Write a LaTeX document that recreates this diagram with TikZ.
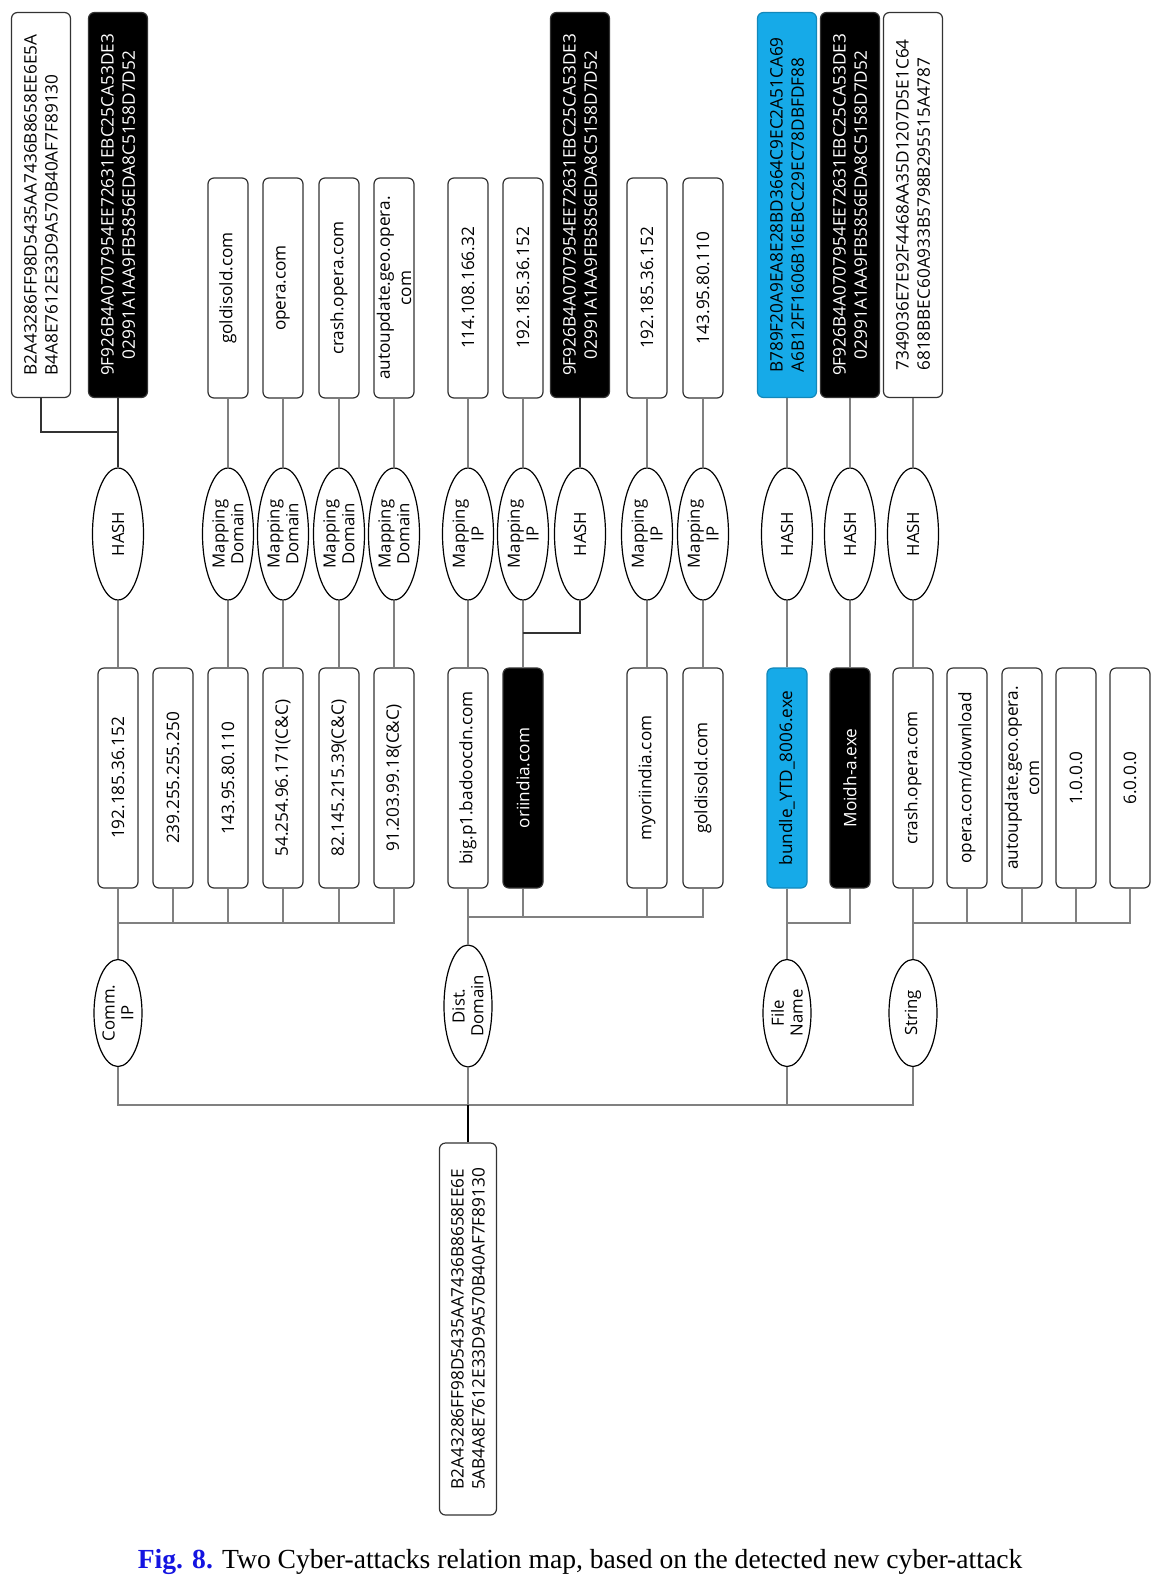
\documentclass[tikz,border=0pt]{standalone}
\usepackage{fontspec}
\setmainfont{Open Sans}
\newfontfamily\capfont{Liberation Serif}
\usepackage{tikz}
\usetikzlibrary{shapes.geometric}
\definecolor{hashblue}{RGB}{22,170,232}
\definecolor{capblue}{RGB}{20,20,225}

\tikzset{
  box/.style={draw=black!80, line width=0.6pt, rounded corners=3pt, rotate=90, inner sep=1pt,
    align=center, font=\fontsize{8.6}{10.6}\selectfont},
  hashbox/.style={box, minimum width=192.5pt, minimum height=29.5pt},
  itembox/.style={box, minimum width=110pt, minimum height=20pt},
  attr/.style={ellipse, draw, line width=0.6pt, rotate=90, inner sep=0pt, minimum width=66pt,
    minimum height=25.5pt, align=center, font=\fontsize{8.4}{9.4}\selectfont},
  kind/.style={attr, minimum width=53.5pt, minimum height=24pt},
  bad/.style={fill=black, text=white},
  fresh/.style={fill=hashblue, draw=hashblue!80!black},
  link/.style={draw=black!50, line width=0.6pt},
  strong/.style={draw=black!80, line width=0.6pt}
}

\begin{document}
\begin{tikzpicture}[x=0.5pt, y=-0.5pt]
  \useasboundingbox[fill=white] (0,0) rectangle (1170,1581);

  \node[hashbox, align=left] (hA) at (41,205) {B2A43286FF98D5435AA7436B8658EE6E5A\\B4A8E7612E33D9A570B40AF7F89130};
  \node[hashbox, bad] (hB) at (118,205) {9F926B4A0707954EE72631EBC25CA53DE3\\02991A1AA9FB5856EDA8C5158D7D52};
  \node[hashbox, bad] (hC) at (580,205) {9F926B4A0707954EE72631EBC25CA53DE3\\02991A1AA9FB5856EDA8C5158D7D52};
  \node[hashbox, fresh, align=left] (hD) at (787,205) {B789F20A9EA8E28BD3664C9EC2A51CA69\\A6B12FF1606B16EBCC29EC78DBFDF88};
  \node[hashbox, bad] (hE) at (850,205) {9F926B4A0707954EE72631EBC25CA53DE3\\02991A1AA9FB5856EDA8C5158D7D52};
  \node[hashbox, align=left] (hF) at (913,205) {7349036E7E92F4468AA35D1207D5E1C64\\6818BBEC60A933B5798B295515A4787};

  \foreach \n/\x/\t in {m1/228/goldisold.com, m2/283/opera.com, m3/339/crash.opera.com,
      m4/394/autoupdate.geo.opera.\\com, p1/468/114.108.166.32, p2/523/192.185.36.152,
      p3/647/192.185.36.152, p4/703/143.95.80.110}
    \node[itembox] (\n) at (\x,288) {\t};

  \node[attr] (e1) at (118,534) {HASH};
  \foreach \n/\x in {md1/228, md2/283, md3/339, md4/394}
    \node[attr] (\n) at (\x,534) {Mapping\\Domain};
  \foreach \n/\x in {mi1/468, mi2/523, mi3/647, mi4/703}
    \node[attr] (\n) at (\x,534) {Mapping\\IP};
  \foreach \n/\x in {dh/580, fh1/787, fh2/850, sh/913}
    \node[attr] (\n) at (\x,534) {HASH};

  \foreach \n/\x/\t in {c1/118/192.185.36.152, c2/173/239.255.255.250, c3/228/143.95.80.110,
      c4/283/54.254.96.171(C\&C), c5/339/82.145.215.39(C\&C), c6/394/91.203.99.18(C\&C),
      d1/468/big.p1.badoocdn.com, d3/647/myoriindia.com, d4/703/goldisold.com,
      s1/913/crash.opera.com, s2/967/{opera.com/download}, s3/1022/autoupdate.geo.opera.\\com,
      s4/1076/1.0.0.0, s5/1130/6.0.0.0}
    \node[itembox] (\n) at (\x,778) {\t};
  \node[itembox, bad] (d2) at (523,778) {oriindia.com};
  \node[itembox, fresh] (f1) at (787,778) {bundle\_YTD\_8006.exe};
  \node[itembox, bad] (f2) at (850,778) {Moidh-a.exe};

  \node[kind] (comm) at (118,1013) {Comm.\\IP};
  \node[kind, minimum width=61pt] (dist) at (468,1006) {Dist.\\Domain};
  \node[kind] (fname) at (787,1013) {File\\Name};
  \node[kind] (strg) at (913,1013) {String};

  \node[hashbox, minimum width=186pt, minimum height=28.5pt] (root) at (468,1329)
    {B2A43286FF98D5435AA7436B8658EE6E\\5AB4A8E7612E33D9A570B40AF7F89130};

  \coordinate (jh) at (118,432);
  \draw[strong] (hA) |- (jh);
  \draw[strong] (hB) -- (e1);
  \draw[link] (e1) -- (c1);
  \foreach \a/\b/\c in {m1/md1/c3, m2/md2/c4, m3/md3/c5, m4/md4/c6, p1/mi1/d1, p2/mi2/d2,
      p3/mi3/d3, p4/mi4/d4, hD/fh1/f1, hE/fh2/f2, hF/sh/s1} {
    \draw[link] (\a) -- (\b);
    \draw[link] (\b) -- (\c);
  }
  \coordinate (jd) at (523,633);
  \draw[strong] (hC) -- (dh);
  \draw[strong] (dh) |- (jd);

  \coordinate (cbus) at (118,923);
  \draw[link] (comm) -- (cbus) -| (c6);
  \foreach \n in {c1,c2,c3,c4,c5}
    \draw[link] (\n) -- (\n |- cbus);
  \coordinate (dbus) at (468,917);
  \draw[link] (dist) -- (dbus) -| (d4);
  \foreach \n in {d1,d2,d3}
    \draw[link] (\n) -- (\n |- dbus);
  \coordinate (fbus) at (787,923);
  \draw[link] (fname) -- (fbus) -| (f2);
  \draw[link] (f1) -- (fbus);
  \coordinate (sbus) at (913,923);
  \draw[link] (strg) -- (sbus) -| (s5);
  \foreach \n in {s1,s2,s3,s4}
    \draw[link] (\n) -- (\n |- sbus);

  \coordinate (mbus) at (468,1105);
  \draw[link] (comm) |- (mbus);
  \draw[link] (strg) |- (mbus);
  \draw[link] (fname) |- (mbus);
  \draw[link] (dist) -- (mbus);
  \draw[black, line width=1.1pt] (root) -- (mbus);

  \node[font=\capfont\fontsize{13.8}{16}\selectfont] (cap) at (580,1562)
    {\textcolor{capblue}{\textbf{Fig. 8.}} Two Cyber-attacks relation map, based on the detected new cyber-attack};
\end{tikzpicture}
\end{document}
